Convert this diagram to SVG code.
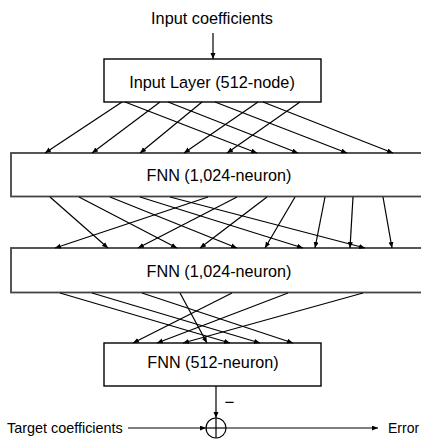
<svg xmlns="http://www.w3.org/2000/svg" width="421" height="439" viewBox="0 0 421 439">
  <defs>
    <marker id="ah" markerUnits="userSpaceOnUse" markerWidth="7" markerHeight="6" refX="6" refY="2.5" orient="auto">
      <path d="M0,0 L6,2.5 L0,5 z" fill="#000"/>
    </marker>
    <style>
      .t { font-family: "Liberation Sans", Arial, sans-serif; fill: #000; }
      .box { fill: #fff; stroke: #000; stroke-width: 1.4; }
      .gbox { fill: #fff; stroke: #444; stroke-width: 1.8; }
      .c line { stroke: #000; stroke-width: 1.2; marker-end: url(#ah); }
    </style>
  </defs>
  <rect width="421" height="439" fill="#fff"/>

  <text class="t" x="212" y="24" font-size="16.3" text-anchor="middle">Input coefficients</text>

  <g id="input-layer">
    <rect class="box" x="104" y="59" width="217" height="43"/>
    <text class="t" x="212" y="88" font-size="16.3" text-anchor="middle">Input Layer (512-node)</text>
  </g>
  <g id="fnn1">
    <rect class="gbox" x="11" y="153" width="430" height="43.5"/>
    <text class="t" x="219" y="181" font-size="16.2" text-anchor="middle">FNN (1,024-neuron)</text>
  </g>
  <g id="fnn2">
    <rect class="gbox" x="11" y="248" width="430" height="44.5"/>
    <text class="t" x="219" y="277" font-size="16.2" text-anchor="middle">FNN (1,024-neuron)</text>
  </g>
  <g id="fnn3">
    <rect class="box" x="104" y="343" width="217" height="43"/>
    <text class="t" x="213" y="368" font-size="16.2" text-anchor="middle">FNN (512-neuron)</text>
  </g>
  <g id="sum">
    <circle cx="216" cy="428" r="10" fill="#fff" stroke="#000" stroke-width="1.2"/>
    <line x1="216" y1="418" x2="216" y2="438" stroke="#000" stroke-width="1.2"/>
    <line x1="206" y1="428" x2="226" y2="428" stroke="#000" stroke-width="1.2"/>
  </g>
  <text class="t" x="224.5" y="408" font-size="17">−</text>
  <text class="t" x="7" y="432.5" font-size="14.4">Target coefficients</text>
  <text class="t" x="388" y="432.5" font-size="14">Error</text>

  <g id="connectors" class="c">
    <line x1="213" y1="33" x2="213" y2="59"/>
    <!-- input layer to FNN1 -->
    <line x1="122" y1="102" x2="45" y2="153"/>
    <line x1="160" y1="102" x2="92" y2="153"/>
    <line x1="202" y1="102" x2="140" y2="153"/>
    <line x1="258" y1="102" x2="184" y2="153"/>
    <line x1="300" y1="102" x2="227" y2="153"/>
    <line x1="125" y1="102" x2="257" y2="153"/>
    <line x1="168" y1="102" x2="298" y2="153"/>
    <line x1="215" y1="102" x2="347" y2="153"/>
    <line x1="263" y1="102" x2="393" y2="153"/>
    <!-- FNN1 to FNN2 -->
    <line x1="50" y1="197" x2="108" y2="248"/>
    <line x1="79" y1="197" x2="177" y2="248"/>
    <line x1="110" y1="197" x2="237" y2="248"/>
    <line x1="140" y1="197" x2="303" y2="248"/>
    <line x1="170" y1="197" x2="365" y2="248"/>
    <line x1="208" y1="197" x2="55" y2="248"/>
    <line x1="237" y1="197" x2="138" y2="248"/>
    <line x1="267" y1="197" x2="200" y2="248"/>
    <line x1="295" y1="197" x2="265" y2="248"/>
    <line x1="325" y1="197" x2="315" y2="248"/>
    <line x1="353" y1="197" x2="350" y2="248"/>
    <line x1="383" y1="197" x2="392" y2="248"/>
    <!-- FNN2 to FNN3 -->
    <line x1="60" y1="293" x2="230" y2="343"/>
    <line x1="92" y1="293" x2="260" y2="343"/>
    <line x1="142" y1="293" x2="293" y2="343"/>
    <line x1="180" y1="293" x2="207" y2="343"/>
    <line x1="232" y1="293" x2="133" y2="343"/>
    <line x1="288" y1="293" x2="157" y2="343"/>
    <line x1="363" y1="293" x2="183" y2="343"/>
    <!-- output / error -->
    <line x1="216" y1="386" x2="216" y2="418"/>
    <line x1="128" y1="428" x2="206" y2="428"/>
    <line x1="226" y1="428" x2="378" y2="428"/>
  </g>
</svg>
